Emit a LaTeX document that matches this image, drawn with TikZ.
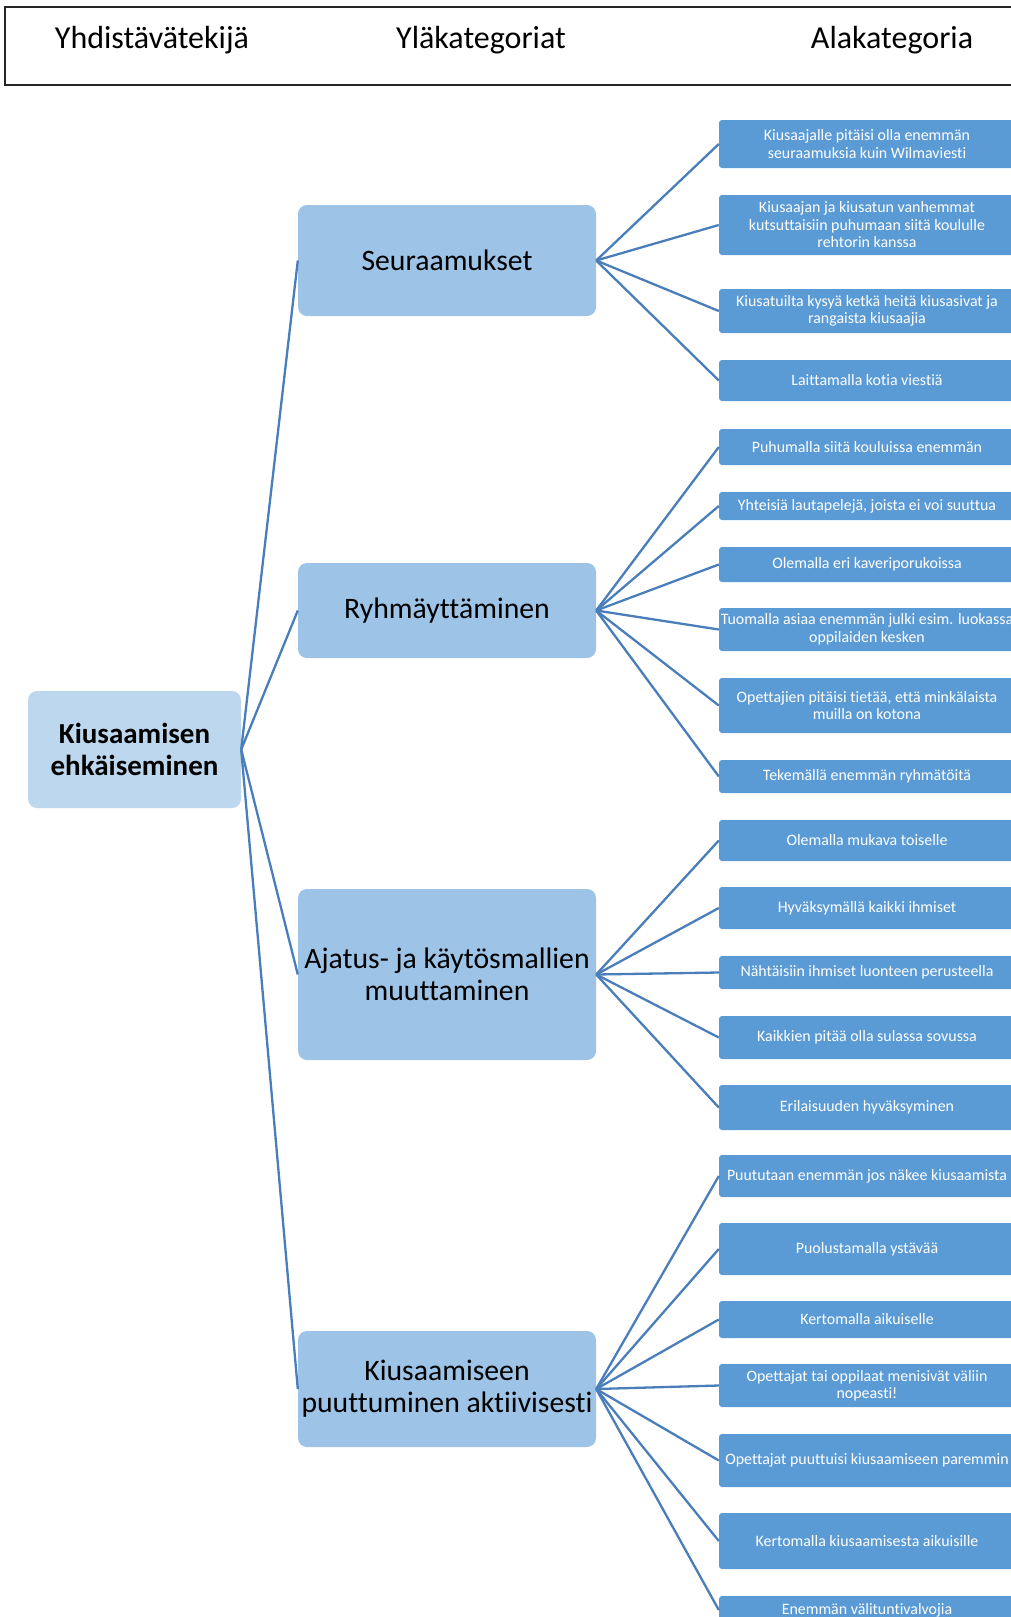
\documentclass[tikz,border=0pt]{standalone}
\usepackage{fontspec}
\setmainfont{Carlito}[Ligatures=NoCommon]
\usepackage{tikz}

\definecolor{rootblue}{HTML}{BDD7EE}
\definecolor{catblue}{HTML}{9DC3E6}
\definecolor{leafblue}{HTML}{5B9BD5}
\definecolor{linkblue}{HTML}{4A7EBB}

\tikzset{
  rootbox/.style={fill=rootblue, rounded corners=9pt, minimum width=213pt, align=center,
    font=\fontsize{29}{32}\selectfont\bfseries},
  catbox/.style={fill=catblue, rounded corners=9pt, minimum width=298pt, align=center,
    font=\fontsize{29.7}{32}\selectfont},
  leafbox/.style={fill=leafblue, text=white, rounded corners=3pt, minimum width=296pt,
    inner xsep=0pt, align=center, font=\fontsize{15.9}{17.5}\selectfont},
  headtext/.style={font=\fontsize{32}{34}\selectfont},
  link/.style={draw=linkblue, line width=2.3pt}
}

\begin{document}
\begin{tikzpicture}[x=1pt, y=-1pt]
    \useasboundingbox (0,0) rectangle (1011,1617);

    % draw header
    \draw[line width=1.3pt, black!85] (1030,7) -- (5,7) -- (5,85) -- (1030,85);
    \node[headtext] (hone) at (152,40) {Yhdistävätekijä};
    \node[headtext] (htwo) at (481,40) {Yläkategoriat};
    \node[headtext] (hthree) at (892,40) {Alakategoria};

    % draw root and categories
    \node[rootbox, minimum height=117pt] (root) at (134.5,749.5) {Kiusaamisen\\ehkäiseminen};
    \node[catbox, minimum height=111pt] (seur) at (447,260.5) {Seuraamukset};
    \node[catbox, minimum height=95pt] (ryhma) at (447,610.5) {Ryhmäyttäminen};
    \node[catbox, minimum height=171pt] (ajatus) at (447,974.5) {Ajatus- ja käytösmallien\\muuttaminen};
    \node[catbox, minimum height=116pt] (puutt) at (447,1389) {Kiusaamiseen\\puuttuminen aktiivisesti};

    % draw leaves
    \node[leafbox, minimum height=48pt] (l1) at (867,144) {Kiusaajalle pitäisi olla enemmän\\seuraamuksia kuin Wilmaviesti};
    \node[leafbox, minimum height=60pt] (l2) at (867,225) {Kiusaajan ja kiusatun vanhemmat\\kutsuttaisiin puhumaan siitä koululle\\rehtorin kanssa};
    \node[leafbox, minimum height=44pt] (l3) at (867,311) {Kiusatuilta kysyä ketkä heitä kiusasivat ja\\rangaista kiusaajia};
    \node[leafbox, minimum height=41pt] (l4) at (867,380.5) {Laittamalla kotia viestiä};

    \node[leafbox, minimum height=36pt] (l5) at (867,447) {Puhumalla siitä kouluissa enemmän};
    \node[leafbox, minimum height=28pt] (l6) at (867,506) {Yhteisiä lautapelejä, joista ei voi suuttua};
    \node[leafbox, minimum height=35pt] (l7) at (867,564.5) {Olemalla eri kaveriporukoissa};
    \node[leafbox, minimum height=43pt] (l8) at (867,629.5) {Tuomalla asiaa enemmän julki esim. luokassa\\oppilaiden kesken};
    \node[leafbox, minimum height=55pt] (l9) at (867,705.5) {Opettajien pitäisi tietää, että minkälaista\\muilla on kotona};
    \node[leafbox, minimum height=33pt] (l10) at (867,776.5) {Tekemällä enemmän ryhmätöitä};

    \node[leafbox, minimum height=41pt] (l11) at (867,840.5) {Olemalla mukava toiselle};
    \node[leafbox, minimum height=42pt] (l12) at (867,908) {Hyväksymällä kaikki ihmiset};
    \node[leafbox, minimum height=33pt] (l13) at (867,972.5) {Nähtäisiin ihmiset luonteen perusteella};
    \node[leafbox, minimum height=43pt] (l14) at (867,1037.5) {Kaikkien pitää olla sulassa sovussa};
    \node[leafbox, minimum height=45pt] (l15) at (867,1107.5) {Erilaisuuden hyväksyminen};

    \node[leafbox, minimum height=42pt] (l16) at (867,1176) {Puututaan enemmän jos näkee kiusaamista};
    \node[leafbox, minimum height=52pt] (l17) at (867,1249) {Puolustamalla ystävää};
    \node[leafbox, minimum height=37pt] (l18) at (867,1319.5) {Kertomalla aikuiselle};
    \node[leafbox, minimum height=43pt] (l19) at (867,1385.5) {Opettajat tai oppilaat menisivät väliin\\nopeasti!};
    \node[leafbox, minimum height=53pt] (l20) at (867,1460.5) {Opettajat puuttuisi kiusaamiseen paremmin};
    \node[leafbox, minimum height=56pt] (l21) at (867,1541) {Kertomalla kiusaamisesta aikuisille};
    \node[leafbox, minimum height=28pt] (l22) at (867,1610) {Enemmän välituntivalvojia};

    % draw links
    \foreach \c in {seur,ryhma,ajatus,puutt}
      \draw[link] (root.east) -- (\c.west);
    \foreach \i in {1,...,4}
      \draw[link] (seur.east) -- (l\i.west);
    \foreach \i in {5,...,10}
      \draw[link] (ryhma.east) -- (l\i.west);
    \foreach \i in {11,...,15}
      \draw[link] (ajatus.east) -- (l\i.west);
    \foreach \i in {16,...,22}
      \draw[link] (puutt.east) -- (l\i.west);

  \end{tikzpicture}
\end{document}
